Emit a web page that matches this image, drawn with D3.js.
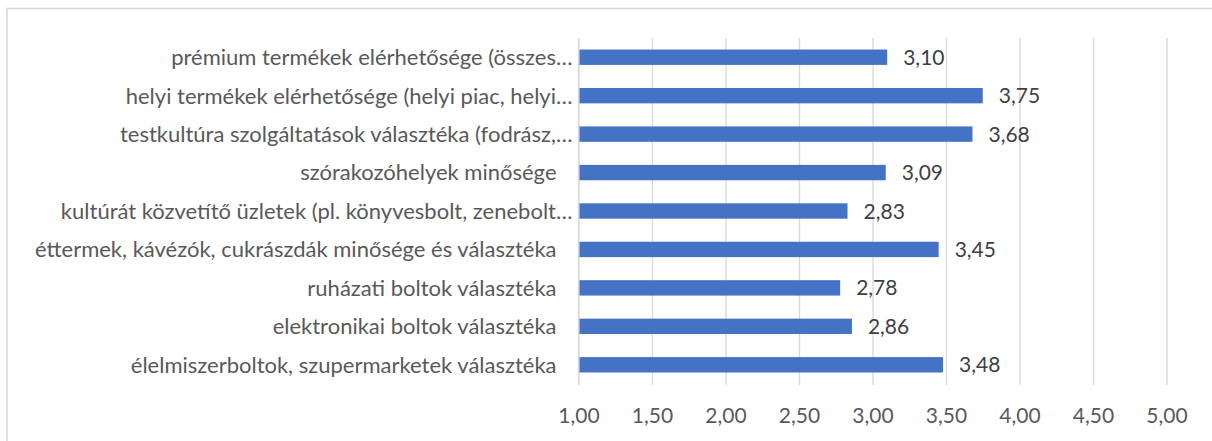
<!DOCTYPE html>
<html>
<head>
<meta charset="utf-8">
<script src="https://cdn.jsdelivr.net/npm/d3@7/dist/d3.min.js"></script>
<style>
  html, body { margin: 0; padding: 0; background: #fff; }
  svg { display: block; font-family: Lato, "Open Sans", sans-serif; }
</style>
</head>
<body>
<svg id="chart" width="1212" height="441"></svg>
<script>
// Category labels, top to bottom
const categories = [
  "prémium termékek elérhetősége (összes…",
  "helyi termékek elérhetősége (helyi piac, helyi…",
  "testkultúra szolgáltatások választéka (fodrász,…",
  "szórakozóhelyek minősége",
  "kultúrát közvetítő üzletek (pl. könyvesbolt, zenebolt…",
  "éttermek, kávézók, cukrászdák minősége és választéka",
  "ruházati boltok választéka",
  "elektronikai boltok választéka",
  "élelmiszerboltok, szupermarketek választéka"
];
// Average scores
const values = [3.10, 3.75, 3.68, 3.09, 2.83, 3.45, 2.78, 2.86, 3.48];
// Horizontal axis ticks
const xTicks = [1.0, 1.5, 2.0, 2.5, 3.0, 3.5, 4.0, 4.5, 5.0];

const fmt = v => d3.format(".2f")(v).replace(".", ",");

const svg = d3.select("#chart");
const W = 1212, H = 441;
const plot = { left: 578.5, right: 1166.5, top: 38, bottom: 384 };

// chart frame
svg.append("rect")
  .attr("x", 7).attr("y", 8.5)
  .attr("width", W + 20).attr("height", H + 20)
  .attr("fill", "#fff")
  .attr("stroke", "#d9d9d9").attr("stroke-width", 1.6);

const x = d3.scaleLinear().domain([1, 5]).range([plot.left, plot.right]);
const y = d3.scaleBand().domain(categories).range([plot.top, plot.bottom]).paddingInner(0.6).paddingOuter(0.3);

// vertical gridlines with tick labels
const xAxis = d3.axisBottom(x)
  .tickValues(xTicks)
  .tickSize(-(plot.bottom - plot.top + 1))
  .tickSizeOuter(0)
  .tickPadding(0)
  .tickFormat(fmt);

const gx = svg.append("g")
  .attr("transform", `translate(0,${plot.bottom + 1})`)
  .call(xAxis);
gx.select(".domain").remove();
gx.selectAll(".tick line").attr("stroke", "#d9d9d9").attr("stroke-width", 1.3);
gx.selectAll(".tick text")
  .attr("y", 38)
  .attr("dy", null)
  .attr("fill", "#595959")
  .attr("font-size", 21)
  .attr("font-family", "Lato, sans-serif");

// category axis line
svg.append("line")
  .attr("x1", x(1)).attr("x2", x(1))
  .attr("y1", plot.top).attr("y2", plot.bottom + 1)
  .attr("stroke", "#d9d9d9").attr("stroke-width", 1.3);

// bars
svg.append("g").selectAll("rect")
  .data(values)
  .join("rect")
  .attr("x", x(1) + 1)
  .attr("y", (d, i) => y(categories[i]))
  .attr("width", d => x(d) - x(1) - 1)
  .attr("height", y.bandwidth())
  .attr("fill", "#4472c4");

// value labels
svg.append("g").selectAll("text")
  .data(values)
  .join("text")
  .attr("x", d => x(d) + 16)
  .attr("y", (d, i) => y(categories[i]) + y.bandwidth() / 2)
  .attr("dy", "0.36em")
  .attr("fill", "#404040")
  .attr("font-size", 21)
  .text(d => fmt(d));

// category labels (truncated ones sit closer to the axis)
svg.append("g").selectAll("text")
  .data(categories)
  .join("text")
  .attr("x", d => d.endsWith("…") ? x(1) - 6 : x(1) - 22)
  .attr("y", d => y(d) + y.bandwidth() / 2)
  .attr("dy", "0.36em")
  .attr("text-anchor", "end")
  .attr("fill", "#595959")
  .attr("font-size", 22)
  .text(d => d);
</script>
</body>
</html>
